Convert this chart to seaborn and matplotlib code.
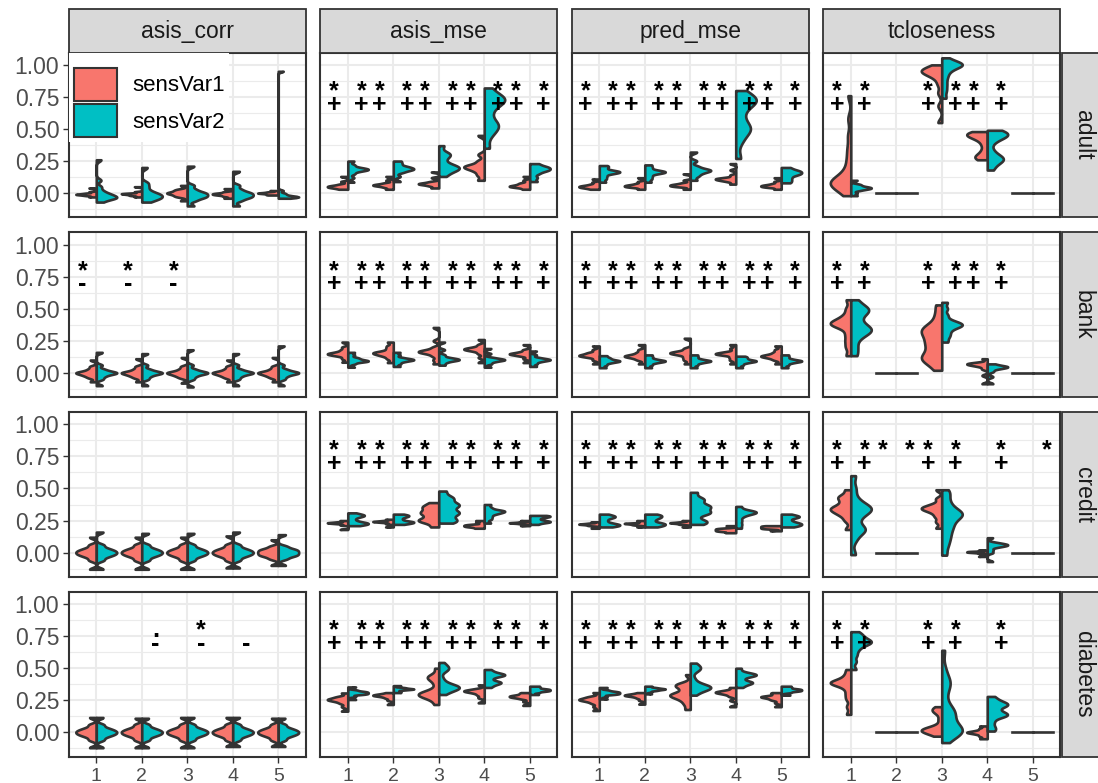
import numpy as np
import pandas as pd
import matplotlib
matplotlib.use("Agg")
import matplotlib.pyplot as plt
from matplotlib.patches import Rectangle, Patch
import seaborn as sns

plt.rcParams['font.family'] = ['Liberation Sans', 'DejaVu Sans']

# facets / categories
datasets = ["adult", "bank", "credit", "diabetes"]
metrics = ["asis_corr", "asis_mse", "pred_mse", "tcloseness"]
groups = ["1", "2", "3", "4", "5"]
sens_vars = ["sensVar1", "sensVar2"]
colors = ["#F8766D", "#00BFC4"]
y_ticks = [0.0, 0.25, 0.5, 0.75, 1.0]
y_labels = ["0.00", "0.25", "0.50", "0.75", "1.00"]

# ---- values (one list per group) ----
# adult
adult_asis_corr_1 = [[-0.03, -0.02, -0.015, -0.01, -0.01, -0.005, 0, 0.01, 0.04],
                     [-0.03, -0.02, -0.015, -0.01, -0.005, -0.005, 0, 0.01, 0.05],
                     [-0.06, -0.03, -0.02, -0.01, 0, 0, 0.01, 0.02, 0.03, 0.06],
                     [-0.04, -0.025, -0.015, -0.01, -0.005, 0, 0.01, 0.035],
                     [-0.015, -0.01, -0.005, 0, 0, 0.005, 0.01, 0.02]]
adult_asis_corr_2 = [[-0.07, -0.05, -0.04, -0.035, -0.03, -0.02, -0.01, 0, 0.02, 0.05, 0.1, 0.26],
                     [-0.07, -0.05, -0.04, -0.03, -0.02, -0.01, 0, 0.02, 0.05, 0.08, 0.2],
                     [-0.1, -0.06, -0.04, -0.03, -0.02, -0.01, 0, 0.01, 0.03, 0.06, 0.21],
                     [-0.1, -0.06, -0.04, -0.03, -0.02, -0.01, 0, 0.01, 0.03, 0.06, 0.17],
                     [-0.04, -0.035, -0.03, -0.03, -0.025, -0.02, -0.01, 0, 0.02, 0.95]]
adult_asis_mse_1 = [[0.03, 0.04, 0.045, 0.05, 0.055, 0.06, 0.07, 0.09, 0.13],
                    [0.03, 0.045, 0.055, 0.06, 0.065, 0.07, 0.08, 0.1, 0.13],
                    [0.04, 0.055, 0.065, 0.07, 0.075, 0.08, 0.09, 0.12, 0.165],
                    [0.1, 0.14, 0.17, 0.19, 0.2, 0.21, 0.22, 0.25, 0.3, 0.45],
                    [0.03, 0.045, 0.05, 0.055, 0.06, 0.07, 0.08, 0.1, 0.13]]
adult_asis_mse_2 = [[0.085, 0.12, 0.15, 0.17, 0.18, 0.185, 0.19, 0.2, 0.22, 0.25],
                    [0.09, 0.13, 0.16, 0.175, 0.185, 0.19, 0.2, 0.21, 0.23, 0.25],
                    [0.13, 0.16, 0.18, 0.19, 0.2, 0.21, 0.23, 0.27, 0.3, 0.31, 0.37],
                    [0.35, 0.45, 0.5, 0.53, 0.55, 0.62, 0.68, 0.71, 0.73, 0.74, 0.76, 0.82],
                    [0.09, 0.12, 0.15, 0.17, 0.18, 0.19, 0.2, 0.21, 0.23]]
adult_pred_mse_1 = [[0.03, 0.04, 0.045, 0.05, 0.055, 0.06, 0.07, 0.085, 0.11],
                    [0.03, 0.045, 0.05, 0.055, 0.06, 0.065, 0.075, 0.09, 0.12],
                    [0.03, 0.05, 0.055, 0.06, 0.065, 0.07, 0.08, 0.1, 0.15],
                    [0.07, 0.09, 0.1, 0.105, 0.11, 0.115, 0.12, 0.14, 0.18, 0.23],
                    [0.03, 0.045, 0.05, 0.055, 0.06, 0.065, 0.075, 0.09, 0.12]]
adult_pred_mse_2 = [[0.085, 0.11, 0.13, 0.15, 0.16, 0.165, 0.17, 0.18, 0.2, 0.215],
                    [0.085, 0.11, 0.13, 0.15, 0.16, 0.165, 0.17, 0.18, 0.2, 0.22],
                    [0.1, 0.13, 0.15, 0.165, 0.175, 0.18, 0.19, 0.21, 0.25, 0.32],
                    [0.27, 0.4, 0.47, 0.5, 0.52, 0.58, 0.65, 0.7, 0.72, 0.73, 0.75, 0.8],
                    [0.08, 0.1, 0.12, 0.14, 0.15, 0.16, 0.17, 0.18, 0.2]]
adult_tcloseness_1 = [[-0.02, 0.02, 0.04, 0.06, 0.07, 0.08, 0.09, 0.1, 0.12, 0.15, 0.2, 0.27, 0.35, 0.45, 0.58, 0.76],
                      [0, 0, 0],
                      [0.55, 0.68, 0.78, 0.85, 0.9, 0.92, 0.94, 0.95, 0.955, 0.96, 0.98, 1.0],
                      [0.26, 0.28, 0.29, 0.33, 0.38, 0.42, 0.44, 0.45, 0.46, 0.47, 0.48],
                      [0, 0, 0]]
adult_tcloseness_2 = [[-0.02, 0.0, 0.02, 0.03, 0.035, 0.04, 0.045, 0.05, 0.06, 0.07, 0.1],
                      [0, 0, 0],
                      [0.74, 0.8, 0.85, 0.9, 0.94, 0.97, 0.99, 1.0, 1.005, 1.01, 1.02, 1.055],
                      [0.18, 0.23, 0.26, 0.27, 0.28, 0.33, 0.4, 0.44, 0.45, 0.46, 0.47, 0.49],
                      [0, 0, 0]]
# bank
bank_asis_corr_1 = [[-0.07, -0.04, -0.025, -0.015, -0.005, 0, 0.005, 0.015, 0.03, 0.05, 0.1],
                    [-0.07, -0.04, -0.025, -0.015, -0.005, 0, 0.005, 0.015, 0.03, 0.05, 0.11],
                    [-0.08, -0.04, -0.025, -0.015, -0.005, 0, 0.005, 0.015, 0.03, 0.05, 0.12],
                    [-0.07, -0.04, -0.025, -0.015, -0.005, 0, 0.005, 0.015, 0.03, 0.05, 0.1],
                    [-0.07, -0.04, -0.025, -0.015, -0.005, 0, 0.005, 0.015, 0.03, 0.05, 0.12]]
bank_asis_corr_2 = [[-0.1, -0.05, -0.03, -0.015, -0.005, 0, 0.005, 0.015, 0.03, 0.06, 0.16],
                    [-0.1, -0.05, -0.03, -0.015, -0.005, 0, 0.005, 0.015, 0.03, 0.06, 0.15],
                    [-0.11, -0.05, -0.03, -0.015, -0.005, 0, 0.005, 0.015, 0.03, 0.06, 0.18],
                    [-0.1, -0.05, -0.03, -0.015, -0.005, 0, 0.005, 0.015, 0.03, 0.06, 0.15],
                    [-0.1, -0.05, -0.03, -0.015, -0.005, 0, 0.005, 0.015, 0.03, 0.06, 0.21]]
bank_asis_mse_1 = [[0.083, 0.11, 0.13, 0.14, 0.145, 0.15, 0.155, 0.165, 0.18, 0.2, 0.24],
                   [0.08, 0.11, 0.13, 0.14, 0.15, 0.155, 0.16, 0.17, 0.19, 0.21, 0.24],
                   [0.07, 0.1, 0.13, 0.15, 0.16, 0.165, 0.17, 0.18, 0.2, 0.25, 0.354],
                   [0.08, 0.12, 0.15, 0.17, 0.18, 0.185, 0.19, 0.2, 0.22, 0.26],
                   [0.08, 0.11, 0.13, 0.14, 0.145, 0.15, 0.155, 0.165, 0.18, 0.22]]
bank_asis_mse_2 = [[0.044, 0.07, 0.085, 0.09, 0.095, 0.1, 0.11, 0.12, 0.14, 0.16],
                   [0.05, 0.07, 0.085, 0.095, 0.1, 0.105, 0.11, 0.12, 0.14, 0.16],
                   [0.06, 0.08, 0.095, 0.1, 0.105, 0.11, 0.12, 0.14, 0.18, 0.24],
                   [0.044, 0.07, 0.085, 0.095, 0.1, 0.105, 0.11, 0.12, 0.15, 0.19],
                   [0.05, 0.07, 0.085, 0.095, 0.1, 0.105, 0.11, 0.12, 0.14, 0.17]]
bank_pred_mse_1 = [[0.07, 0.1, 0.12, 0.13, 0.135, 0.14, 0.15, 0.16, 0.18, 0.21],
                   [0.07, 0.1, 0.115, 0.125, 0.13, 0.135, 0.145, 0.16, 0.18, 0.22],
                   [0.07, 0.1, 0.12, 0.14, 0.15, 0.155, 0.16, 0.17, 0.19, 0.27],
                   [0.07, 0.1, 0.12, 0.14, 0.145, 0.15, 0.155, 0.165, 0.19, 0.22],
                   [0.07, 0.1, 0.115, 0.125, 0.13, 0.135, 0.145, 0.16, 0.18, 0.21]]
bank_pred_mse_2 = [[0.04, 0.06, 0.075, 0.085, 0.09, 0.095, 0.1, 0.11, 0.12, 0.134],
                   [0.04, 0.06, 0.075, 0.085, 0.09, 0.095, 0.1, 0.11, 0.125, 0.14],
                   [0.04, 0.06, 0.075, 0.085, 0.09, 0.095, 0.1, 0.11, 0.125, 0.14],
                   [0.04, 0.06, 0.075, 0.085, 0.09, 0.095, 0.1, 0.11, 0.12, 0.13],
                   [0.04, 0.06, 0.075, 0.085, 0.09, 0.095, 0.1, 0.11, 0.125, 0.14]]
bank_tcloseness_1 = [[0.134, 0.2, 0.25, 0.3, 0.35, 0.37, 0.38, 0.39, 0.4, 0.42, 0.45, 0.5, 0.57],
                     [0, 0, 0],
                     [0.02, 0.08, 0.1, 0.12, 0.14, 0.18, 0.22, 0.24, 0.28, 0.31, 0.33, 0.35, 0.38, 0.45, 0.53],
                     [-0.085, -0.02, 0.03, 0.05, 0.06, 0.065, 0.07, 0.075, 0.08, 0.11],
                     [0, 0, 0]]
bank_tcloseness_2 = [[0.134, 0.2, 0.27, 0.31, 0.33, 0.34, 0.36, 0.4, 0.45, 0.48, 0.5, 0.51, 0.57],
                     [0, 0, 0],
                     [0.24, 0.28, 0.31, 0.34, 0.36, 0.37, 0.38, 0.39, 0.41, 0.45, 0.5, 0.55],
                     [-0.085, -0.03, 0.01, 0.03, 0.04, 0.045, 0.05, 0.055, 0.07],
                     [0, 0, 0]]
# credit
credit_asis_corr_1 = [[-0.13, -0.06, -0.035, -0.02, -0.01, 0, 0.01, 0.02, 0.035, 0.06, 0.12],
                      [-0.13, -0.06, -0.035, -0.02, -0.01, 0, 0.01, 0.02, 0.035, 0.06, 0.12],
                      [-0.13, -0.06, -0.035, -0.02, -0.01, 0, 0.01, 0.02, 0.035, 0.06, 0.12],
                      [-0.12, -0.06, -0.035, -0.02, -0.01, 0, 0.01, 0.02, 0.035, 0.06, 0.13],
                      [-0.1, -0.05, -0.03, -0.02, -0.01, 0, 0.01, 0.02, 0.03, 0.05, 0.1]]
credit_asis_corr_2 = [[-0.13, -0.06, -0.035, -0.02, -0.01, 0, 0.01, 0.02, 0.035, 0.06, 0.16],
                      [-0.13, -0.06, -0.035, -0.02, -0.01, 0, 0.01, 0.02, 0.035, 0.06, 0.15],
                      [-0.13, -0.06, -0.035, -0.02, -0.01, 0, 0.01, 0.02, 0.035, 0.06, 0.15],
                      [-0.12, -0.06, -0.035, -0.02, -0.01, 0, 0.01, 0.02, 0.035, 0.06, 0.16],
                      [-0.1, -0.05, -0.03, -0.02, -0.01, 0, 0.01, 0.02, 0.03, 0.05, 0.14]]
credit_asis_mse_1 = [[0.18, 0.215, 0.225, 0.23, 0.232, 0.235, 0.24, 0.25],
                     [0.2, 0.225, 0.235, 0.24, 0.242, 0.245, 0.25, 0.26],
                     [0.2, 0.24, 0.25, 0.26, 0.29, 0.31, 0.32, 0.35, 0.36, 0.39],
                     [0.19, 0.2, 0.205, 0.21, 0.215, 0.22, 0.235, 0.25],
                     [0.21, 0.225, 0.23, 0.232, 0.235, 0.24, 0.25]]
credit_asis_mse_2 = [[0.21, 0.22, 0.225, 0.23, 0.235, 0.25, 0.27, 0.285, 0.29, 0.295, 0.31],
                     [0.22, 0.23, 0.235, 0.24, 0.245, 0.26, 0.275, 0.285, 0.29, 0.3],
                     [0.23, 0.25, 0.26, 0.3, 0.31, 0.32, 0.36, 0.37, 0.38, 0.42, 0.43, 0.48],
                     [0.23, 0.26, 0.28, 0.3, 0.31, 0.32, 0.325, 0.33, 0.35, 0.375],
                     [0.22, 0.235, 0.24, 0.245, 0.255, 0.27, 0.28, 0.285, 0.29]]
credit_pred_mse_1 = [[0.19, 0.21, 0.215, 0.22, 0.222, 0.225, 0.23, 0.24],
                     [0.2, 0.215, 0.22, 0.225, 0.228, 0.23, 0.24, 0.25],
                     [0.2, 0.22, 0.225, 0.23, 0.232, 0.235, 0.24, 0.25],
                     [0.155, 0.165, 0.17, 0.175, 0.18, 0.185, 0.19, 0.21],
                     [0.17, 0.185, 0.19, 0.195, 0.2, 0.205, 0.21]]
credit_pred_mse_2 = [[0.2, 0.21, 0.215, 0.22, 0.23, 0.25, 0.27, 0.28, 0.285, 0.3],
                     [0.2, 0.21, 0.22, 0.225, 0.235, 0.255, 0.27, 0.28, 0.29, 0.3],
                     [0.22, 0.24, 0.25, 0.3, 0.31, 0.32, 0.35, 0.36, 0.37, 0.41, 0.42, 0.47],
                     [0.19, 0.22, 0.25, 0.28, 0.3, 0.31, 0.315, 0.32, 0.33, 0.36],
                     [0.2, 0.21, 0.22, 0.225, 0.235, 0.25, 0.27, 0.28, 0.285, 0.3]]
credit_tcloseness_1 = [[0.18, 0.25, 0.29, 0.31, 0.33, 0.34, 0.35, 0.37, 0.4, 0.43, 0.44, 0.49],
                       [0, 0, 0],
                       [0.19, 0.24, 0.28, 0.31, 0.33, 0.34, 0.35, 0.36, 0.38, 0.42, 0.49],
                       [-0.03, -0.005, 0, 0.003, 0.005, 0.008, 0.01, 0.02],
                       [0, 0, 0]]
credit_tcloseness_2 = [[-0.016, 0.1, 0.17, 0.18, 0.19, 0.26, 0.3, 0.33, 0.34, 0.35, 0.37, 0.42, 0.5, 0.6],
                       [0, 0, 0],
                       [-0.02, 0.05, 0.1, 0.14, 0.18, 0.21, 0.24, 0.27, 0.29, 0.3, 0.31, 0.33, 0.36, 0.4, 0.45, 0.49],
                       [-0.07, 0.0, 0.02, 0.04, 0.05, 0.055, 0.06, 0.065, 0.07, 0.08, 0.116],
                       [0, 0, 0]]
# diabetes
diabetes_asis_corr_1 = [[-0.12, -0.06, -0.035, -0.02, -0.01, 0, 0.01, 0.02, 0.035, 0.06, 0.116],
                        [-0.12, -0.06, -0.035, -0.02, -0.01, 0, 0.01, 0.02, 0.035, 0.06, 0.11],
                        [-0.12, -0.06, -0.035, -0.02, -0.01, 0, 0.01, 0.02, 0.035, 0.06, 0.116],
                        [-0.11, -0.06, -0.035, -0.02, -0.01, 0, 0.01, 0.02, 0.035, 0.06, 0.116],
                        [-0.11, -0.06, -0.035, -0.02, -0.01, 0, 0.01, 0.02, 0.035, 0.06, 0.11]]
diabetes_asis_corr_2 = [[-0.12, -0.06, -0.035, -0.02, -0.01, 0, 0.01, 0.02, 0.035, 0.06, 0.116],
                        [-0.12, -0.06, -0.035, -0.02, -0.01, 0, 0.01, 0.02, 0.035, 0.06, 0.11],
                        [-0.12, -0.06, -0.035, -0.02, -0.01, 0, 0.01, 0.02, 0.035, 0.06, 0.116],
                        [-0.11, -0.06, -0.035, -0.02, -0.01, 0, 0.01, 0.02, 0.035, 0.06, 0.116],
                        [-0.11, -0.06, -0.035, -0.02, -0.01, 0, 0.01, 0.02, 0.035, 0.06, 0.11]]
diabetes_asis_mse_1 = [[0.165, 0.2, 0.225, 0.24, 0.25, 0.255, 0.26, 0.27, 0.28, 0.307],
                       [0.217, 0.25, 0.265, 0.275, 0.283, 0.287, 0.29, 0.295, 0.3, 0.31],
                       [0.217, 0.26, 0.28, 0.29, 0.295, 0.3, 0.31, 0.33, 0.38, 0.42, 0.43, 0.44, 0.5],
                       [0.23, 0.27, 0.29, 0.305, 0.315, 0.32, 0.325, 0.33, 0.34, 0.37],
                       [0.21, 0.24, 0.26, 0.27, 0.275, 0.28, 0.285, 0.29, 0.3, 0.31]]
diabetes_asis_mse_2 = [[0.256, 0.28, 0.295, 0.3, 0.305, 0.31, 0.315, 0.32, 0.33, 0.354],
                       [0.31, 0.32, 0.33, 0.335, 0.338, 0.34, 0.345, 0.35, 0.364],
                       [0.295, 0.32, 0.34, 0.345, 0.35, 0.355, 0.36, 0.38, 0.42, 0.48, 0.5, 0.51, 0.545],
                       [0.35, 0.37, 0.385, 0.39, 0.395, 0.42, 0.44, 0.445, 0.45, 0.455, 0.47, 0.49],
                       [0.295, 0.31, 0.32, 0.325, 0.33, 0.335, 0.34, 0.35, 0.36]]
diabetes_pred_mse_1 = [[0.17, 0.2, 0.225, 0.24, 0.25, 0.255, 0.26, 0.27, 0.28, 0.31],
                       [0.22, 0.25, 0.265, 0.275, 0.283, 0.287, 0.29, 0.295, 0.3, 0.31],
                       [0.178, 0.22, 0.25, 0.27, 0.285, 0.29, 0.295, 0.31, 0.34, 0.36, 0.37, 0.38, 0.45],
                       [0.2, 0.25, 0.28, 0.295, 0.305, 0.31, 0.315, 0.32, 0.33, 0.35],
                       [0.2, 0.23, 0.25, 0.26, 0.27, 0.275, 0.28, 0.285, 0.3, 0.31]]
diabetes_pred_mse_2 = [[0.26, 0.28, 0.295, 0.3, 0.305, 0.31, 0.315, 0.32, 0.33, 0.35],
                       [0.3, 0.315, 0.325, 0.33, 0.335, 0.338, 0.34, 0.345, 0.35, 0.36],
                       [0.29, 0.32, 0.34, 0.345, 0.35, 0.355, 0.36, 0.38, 0.42, 0.48, 0.5, 0.51, 0.54],
                       [0.35, 0.37, 0.385, 0.39, 0.395, 0.42, 0.44, 0.445, 0.45, 0.455, 0.47, 0.5],
                       [0.29, 0.31, 0.32, 0.325, 0.33, 0.335, 0.34, 0.35, 0.36]]
diabetes_tcloseness_1 = [[0.14, 0.2, 0.26, 0.3, 0.34, 0.37, 0.38, 0.385, 0.39, 0.4, 0.42, 0.45, 0.49],
                         [0, 0, 0],
                         [-0.03, -0.01, 0.0, 0.01, 0.015, 0.02, 0.025, 0.03, 0.05, 0.1, 0.15, 0.17, 0.18, 0.2],
                         [-0.05, -0.03, -0.015, -0.005, 0, 0.005, 0.015, 0.03, 0.05],
                         [0, 0, 0]]
diabetes_tcloseness_2 = [[0.49, 0.55, 0.6, 0.64, 0.67, 0.69, 0.7, 0.71, 0.72, 0.74, 0.76, 0.785],
                         [0, 0, 0],
                         [-0.08, -0.02, 0.0, 0.005, 0.01, 0.015, 0.02, 0.04, 0.08, 0.12, 0.15, 0.16, 0.17,
                          0.22, 0.3, 0.36, 0.39, 0.42, 0.5, 0.64],
                         [0.01, 0.04, 0.08, 0.12, 0.13, 0.14, 0.15, 0.17, 0.2, 0.21, 0.22, 0.23, 0.25, 0.28],
                         [0, 0, 0]]

# ---- significance marks: order 1L,1R,2L,2R,...,5L,5R ----
marks_all_top = ["*", "*", "*", "*", "*", "*", "*", "*", "*", "*"]
marks_all_bottom = ["+", "+", "+", "+", "+", "+", "+", "+", "+", "+"]
marks_none = ["", "", "", "", "", "", "", "", "", ""]
tclose_top = ["*", "*", "", "", "*", "*", "*", "*", "", ""]
tclose_bottom = ["+", "+", "", "", "+", "+", "+", "+", "", ""]
bank_corr_top = ["*", "", "*", "", "*", "", "", "", "", ""]
bank_corr_bottom = ["-", "", "-", "", "-", "", "", "", "", ""]
credit_tclose_top = ["*", "*", "*", "*", "*", "*", "", "*", "", "*"]
credit_tclose_bottom = ["+", "+", "", "", "+", "+", "", "+", "", ""]
diabetes_corr_top = ["", "", "", ".", "", "*", "", "", "", ""]
diabetes_corr_bottom = ["", "", "", "-", "", "-", "", "-", "", ""]
diabetes_tclose_top = ["*", "*", "", "", "*", "*", "", "*", "", ""]
diabetes_tclose_bottom = ["+", "+", "", "", "+", "+", "", "+", "", ""]

values = {
    ("adult", "asis_corr"): (adult_asis_corr_1, adult_asis_corr_2),
    ("adult", "asis_mse"): (adult_asis_mse_1, adult_asis_mse_2),
    ("adult", "pred_mse"): (adult_pred_mse_1, adult_pred_mse_2),
    ("adult", "tcloseness"): (adult_tcloseness_1, adult_tcloseness_2),
    ("bank", "asis_corr"): (bank_asis_corr_1, bank_asis_corr_2),
    ("bank", "asis_mse"): (bank_asis_mse_1, bank_asis_mse_2),
    ("bank", "pred_mse"): (bank_pred_mse_1, bank_pred_mse_2),
    ("bank", "tcloseness"): (bank_tcloseness_1, bank_tcloseness_2),
    ("credit", "asis_corr"): (credit_asis_corr_1, credit_asis_corr_2),
    ("credit", "asis_mse"): (credit_asis_mse_1, credit_asis_mse_2),
    ("credit", "pred_mse"): (credit_pred_mse_1, credit_pred_mse_2),
    ("credit", "tcloseness"): (credit_tcloseness_1, credit_tcloseness_2),
    ("diabetes", "asis_corr"): (diabetes_asis_corr_1, diabetes_asis_corr_2),
    ("diabetes", "asis_mse"): (diabetes_asis_mse_1, diabetes_asis_mse_2),
    ("diabetes", "pred_mse"): (diabetes_pred_mse_1, diabetes_pred_mse_2),
    ("diabetes", "tcloseness"): (diabetes_tcloseness_1, diabetes_tcloseness_2),
}
marks = {
    ("adult", "asis_corr"): (marks_none, marks_none),
    ("adult", "tcloseness"): (tclose_top, tclose_bottom),
    ("bank", "asis_corr"): (bank_corr_top, bank_corr_bottom),
    ("bank", "tcloseness"): (tclose_top, tclose_bottom),
    ("credit", "asis_corr"): (marks_none, marks_none),
    ("credit", "tcloseness"): (credit_tclose_top, credit_tclose_bottom),
    ("diabetes", "asis_corr"): (diabetes_corr_top, diabetes_corr_bottom),
    ("diabetes", "tcloseness"): (diabetes_tclose_top, diabetes_tclose_bottom),
}


def nrd0(kde):
    # R-style bandwidth (robust to long tails)
    x = np.asarray(kde.dataset).ravel()
    sd = x.std(ddof=1)
    if sd == 0:
        return 1.0
    iqr = np.subtract(*np.percentile(x, [75, 25]))
    lo = min(sd, iqr / 1.34) if iqr > 0 else sd
    return 0.9 * lo * len(x) ** -0.2 / sd


def panel_frame(v1, v2):
    rows = []
    for name, per_group in zip(sens_vars, [v1, v2]):
        for g, sample in zip(groups, per_group):
            for v in sample:
                rows.append((g, name, v))
    return pd.DataFrame(rows, columns=["group", "sensVar", "value"])


W, H = 1098, 783
fig, axes = plt.subplots(4, 4, figsize=(W / 100, H / 100), dpi=100, sharex=True, sharey=True)
fig.subplots_adjust(left=69 / W, right=1060 / W, top=1 - 52.7 / H, bottom=1 - 756.7 / H,
                    wspace=0.0634, hspace=0.0909)

edge = "#333333"
for i, ds in enumerate(datasets):
    for j, met in enumerate(metrics):
        ax = axes[i, j]
        v1, v2 = values[(ds, met)]
        df = panel_frame(v1, v2)
        sns.violinplot(data=df, x="group", y="value", hue="sensVar", order=groups,
                       hue_order=sens_vars, palette=colors, split=True, inner=None,
                       cut=0, density_norm="width", width=0.9, linewidth=1.9,
                       linecolor=edge, saturation=1, bw_method=nrd0, bw_adjust=0.55,
                       gridsize=200, legend=False, ax=ax)
        ax.set_xlabel("")
        ax.set_ylabel("")
        ax.set_xlim(-0.6, 4.6)
        ax.set_ylim(-0.19, 1.095)
        ax.set_yticks(y_ticks)
        ax.set_yticks([-0.125, 0.125, 0.375, 0.625, 0.875], minor=True)
        ax.set_xticks(range(len(groups)))
        ax.set_axisbelow(True)
        ax.grid(True, which="major", color="#EBEBEB", lw=1.5)
        ax.grid(True, which="minor", axis="y", color="#EBEBEB", lw=0.8)
        for s in ax.spines.values():
            s.set_color(edge)
            s.set_linewidth(1.5)
            s.set_zorder(5)
        ax.tick_params(which="minor", left=False, length=0)
        ax.tick_params(axis="y", length=4, width=1, color=edge, labelsize=16.5,
                       labelcolor="#4D4D4D", pad=3, left=(j == 0), labelleft=(j == 0))
        ax.tick_params(axis="x", length=4, width=1, color=edge, labelsize=14,
                       labelcolor="#4D4D4D", pad=4, bottom=(i == 3), labelbottom=(i == 3))
        if j == 0:
            ax.set_yticklabels(y_labels)
        if i == 3:
            ax.set_xticklabels(groups)

        # one two-line label per position: significance over direction
        top, bottom = marks.get((ds, met), (marks_all_top, marks_all_bottom))
        for k, (t, b) in enumerate(zip(top, bottom)):
            if not (t or b):
                continue
            xpos = k // 2 + (-0.3 if k % 2 == 0 else 0.3)
            ax.text(xpos, 0.635, f"{t or ' '}\n{b or ' '}", ha="center", va="baseline",
                    fontsize=18, fontweight="bold", color="black", linespacing=0.45, zorder=4)

        # facet strips
        if i == 0:
            ax.add_patch(Rectangle((0, 1), 1, 0.2633, transform=ax.transAxes, clip_on=False,
                                   facecolor="#D9D9D9", edgecolor=edge, lw=1.3, zorder=6))
            ax.text(0.5, 1 + 0.2633 / 2, met, transform=ax.transAxes, ha="center",
                    va="center", fontsize=16.5, color="#1A1A1A", zorder=7)
        if j == 3:
            ax.add_patch(Rectangle((1.007, 0), 0.19, 1, transform=ax.transAxes, clip_on=False,
                                   facecolor="#D9D9D9", edgecolor=edge, lw=1.3, zorder=6))
            ax.text(1.007 + 0.0915, 0.5, ds, transform=ax.transAxes, ha="center",
                    va="center", rotation=-90, fontsize=16.5, color="#1A1A1A", zorder=7)

handles = [Patch(facecolor=c, edgecolor=edge, lw=1.5) for c in colors]
leg = axes[0, 0].legend(handles, sens_vars, loc="upper left", bbox_to_anchor=(0, 1),
                        borderaxespad=0, fontsize=16, title=" ", title_fontsize=6,
                        handlelength=1.96, handleheight=1.91, handletextpad=0.67,
                        labelspacing=0.15, borderpad=0.21, frameon=True, fancybox=False)
leg.get_frame().set_facecolor("white")
leg.get_frame().set_edgecolor("none")
leg.get_frame().set_alpha(1)
leg.set_zorder(10)

fig.savefig("out.png", dpi=100)
